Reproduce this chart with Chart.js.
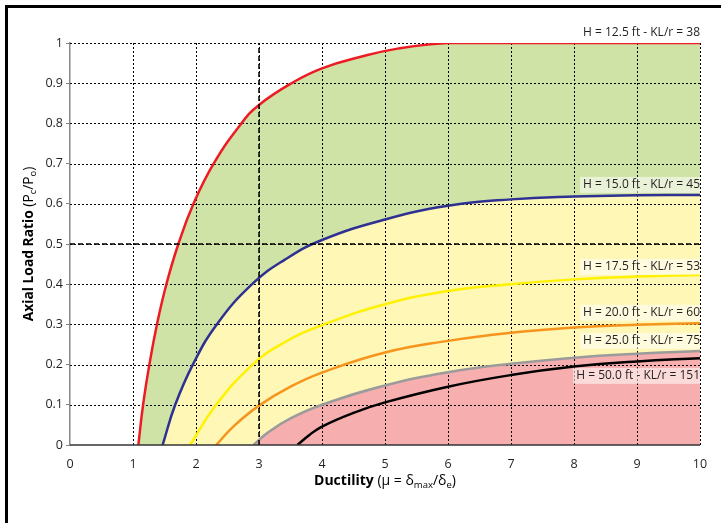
<!DOCTYPE html>
<html>
<head>
<meta charset="utf-8">
<script src="https://cdn.jsdelivr.net/npm/chart.js@4.4.1/dist/chart.umd.min.js"></script>
<style>
  html, body { margin: 0; padding: 0; background: #fff; overflow: hidden; }
  #frame { position: absolute; left: 5px; top: 5px; width: 800px; height: 600px; border: 3px solid #000; }
  #chart { position: absolute; left: 0; top: 0; }
</style>
</head>
<body>
<div id="frame"></div>
<canvas id="chart" width="721" height="523"></canvas>
<script>
// --- data ---
const xTicks = [0, 1, 2, 3, 4, 5, 6, 7, 8, 9, 10];
const yTicks = [0, 0.1, 0.2, 0.3, 0.4, 0.5, 0.6, 0.7, 0.8, 0.9, 1];

const labels = [
  "H = 12.5 ft - KL/r = 38",
  "H = 15.0 ft - KL/r = 45",
  "H = 17.5 ft - KL/r = 53",
  "H = 20.0 ft - KL/r = 60",
  "H = 25.0 ft - KL/r = 75",
  "H = 50.0 ft - KL/r = 151"
];
const labelY = [1.025, 0.647, 0.443, 0.329, 0.259, 0.172];
const labelBox = [false, true, true, true, true, true];

const redX = [1.085, 1.16, 1.26, 1.38, 1.53, 1.72, 1.96, 2.28, 2.72, 3.0, 3.55, 4.0, 4.6, 5.2, 6.0, 7, 8, 9, 10];
const redY = [0, 0.1, 0.2, 0.3, 0.4, 0.5, 0.6, 0.7, 0.8, 0.846, 0.903, 0.937, 0.965, 0.986, 1.0, 1, 1, 1, 1];

const blueX = [1.47, 1.67, 1.95, 2.33, 2.89, 3.4, 4.0, 5, 6, 7, 8, 9, 10];
const blueY = [0, 0.1, 0.2, 0.3, 0.4, 0.46, 0.51, 0.561, 0.595, 0.611, 0.618, 0.621, 0.622];

const yellowX = [1.905, 2.32, 2.9, 3.4, 4.0, 5, 6, 7, 8, 9, 10];
const yellowY = [0, 0.1, 0.2, 0.255, 0.298, 0.35, 0.383, 0.40, 0.412, 0.419, 0.423];

const orangeX = [2.32, 2.6, 3.0, 3.5, 4.0, 5, 6, 7, 8, 9, 10];
const orangeY = [0, 0.047, 0.098, 0.145, 0.18, 0.23, 0.259, 0.279, 0.292, 0.299, 0.303];

const grayX = [2.91, 3.15, 3.5, 4.0, 5, 6, 7, 8, 9, 10];
const grayY = [0, 0.032, 0.066, 0.1, 0.148, 0.181, 0.202, 0.217, 0.227, 0.234];

const blackX = [3.61, 3.8, 4.0, 4.5, 5, 6, 7, 8, 9, 10];
const blackY = [0, 0.025, 0.046, 0.08, 0.106, 0.145, 0.174, 0.195, 0.208, 0.216];

const refVX = [3, 3];
const refVY = [0, 1];
const refHX = [0, 10];
const refHY = [0.5, 0.5];

const FONT = "'Open Sans', 'Noto Sans', sans-serif";

function pts(xs, ys) {
  return xs.map((x, i) => ({ x: x, y: ys[i] }));
}

function curve(xs, ys, color, fillColor, order) {
  return {
    data: pts(xs, ys),
    borderColor: color,
    borderWidth: 2.5,
    backgroundColor: fillColor || 'transparent',
    fill: fillColor ? 'origin' : false,
    pointRadius: 0,
    tension: 0.45,
    order: order
  };
}

// grid drawn above the fills but below the lines
const gridPlugin = {
  id: 'dottedGrid',
  beforeDatasetsDraw(chart) {
    const { ctx, chartArea: a, scales: { x, y } } = chart;
    ctx.save();
    ctx.strokeStyle = '#000';
    ctx.lineWidth = 1;
    ctx.setLineDash([2, 2]);
    xTicks.forEach(v => {
      if (v === 0) return;
      const px = Math.round(x.getPixelForValue(v)) + 0.5;
      ctx.beginPath(); ctx.moveTo(px, a.top); ctx.lineTo(px, a.bottom); ctx.stroke();
    });
    yTicks.forEach(v => {
      if (v === 0) return;
      const py = Math.round(y.getPixelForValue(v)) + 0.5;
      ctx.beginPath(); ctx.moveTo(a.left, py); ctx.lineTo(a.right, py); ctx.stroke();
    });
    ctx.restore();
  }
};

// draws runs of [text, bold, sub] pieces centred on the origin
function drawRich(ctx, parts, size) {
  const fontOf = p => (p[1] ? 'bold ' : '') + (p[2] ? size * 0.68 : size) + 'px ' + FONT;
  const widths = parts.map(p => { ctx.font = fontOf(p); return ctx.measureText(p[0]).width; });
  const total = widths.reduce((s, w) => s + w, 0);
  let cx = -total / 2;
  parts.forEach((p, i) => {
    ctx.font = fontOf(p);
    ctx.fillText(p[0], cx, p[2] ? size * 0.28 : 0);
    cx += widths[i];
  });
}

const textPlugin = {
  id: 'texts',
  afterDatasetsDraw(chart) {
    const { ctx, chartArea: a, scales: { y } } = chart;
    ctx.save();

    // x axis line, on top of the fills
    ctx.strokeStyle = '#333';
    ctx.lineWidth = 1.5;
    ctx.beginPath(); ctx.moveTo(a.left, a.bottom); ctx.lineTo(a.right, a.bottom); ctx.stroke();

    ctx.textBaseline = 'middle';
    ctx.font = '12px ' + FONT;
    labels.forEach((t, i) => {
      const py = y.getPixelForValue(labelY[i]);
      const w = ctx.measureText(t).width;
      if (labelBox[i]) {
        ctx.fillStyle = 'rgba(255,255,255,0.55)';
        ctx.fillRect(a.right - w - 3, py - 8, w + 3, 16);
      }
      ctx.fillStyle = '#231f20';
      ctx.textAlign = 'right';
      ctx.fillText(t, a.right, py);
    });

    ctx.fillStyle = '#000';
    ctx.textAlign = 'left';
    ctx.save();
    ctx.translate((a.left + a.right) / 2, 481);
    drawRich(ctx, [['Ductility', true], [' (\u03bc = \u03b4'], ['max', false, true], ['/\u03b4'], ['e', false, true], [')']], 14);
    ctx.restore();

    ctx.save();
    ctx.translate(29, (a.top + a.bottom) / 2);
    ctx.rotate(-Math.PI / 2);
    drawRich(ctx, [['Axial Load Ratio', true], [' (P'], ['c', false, true], ['/P'], ['o', false, true], [')']], 13.8);
    ctx.restore();
    ctx.restore();
  }
};

const tickFmt = v => String(Math.round(v * 10) / 10);

new Chart(document.getElementById('chart'), {
  type: 'line',
  data: {
    datasets: [
      curve(redX, redY, '#ed1c24', '#cfe3a6', 6),
      curve(blueX, blueY, '#2e3192', '#fff7b5', 5),
      curve(yellowX, yellowY, '#fff200', null, 4),
      curve(orangeX, orangeY, '#f7941d', null, 3),
      curve(grayX, grayY, '#9b9b9b', '#f7aeae', 2),
      curve(blackX, blackY, '#000000', null, 1),
      { data: pts(refVX, refVY), borderColor: '#000', borderWidth: 1.5, borderDash: [5, 3], pointRadius: 0, fill: false, order: 0 },
      { data: pts(refHX, refHY), borderColor: '#000', borderWidth: 1.5, borderDash: [5, 3], pointRadius: 0, fill: false, order: 0 }
    ]
  },
  options: {
    responsive: false,
    animation: false,
    layout: { padding: { left: 0, right: 21, top: 43, bottom: 0 } },
    plugins: {
      legend: { display: false },
      tooltip: { enabled: false },
      filler: { drawTime: 'beforeDatasetsDraw' }
    },
    scales: {
      x: {
        type: 'linear',
        min: 0, max: 10,
        afterFit: s => { s.height = 78; },
        ticks: { stepSize: 1, color: '#231f20', font: { family: FONT, size: 12.5 }, padding: 4, callback: tickFmt },
        grid: { display: false },
        border: { display: false }
      },
      y: {
        min: 0, max: 1,
        afterFit: s => { s.width = 70; },
        ticks: { stepSize: 0.1, color: '#231f20', font: { family: FONT, size: 12.5 }, padding: 3, callback: tickFmt },
        grid: { drawOnChartArea: false, drawTicks: true, tickLength: 4, color: '#888' },
        border: { display: true, color: '#888', width: 1.5 }
      }
    }
  },
  plugins: [gridPlugin, textPlugin]
});
</script>
</body>
</html>
